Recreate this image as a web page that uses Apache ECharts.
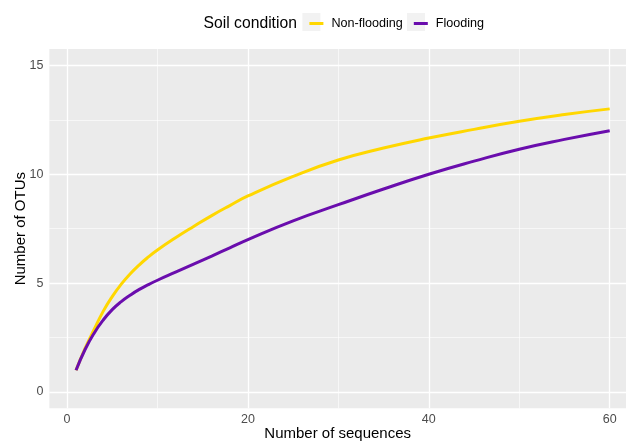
<!DOCTYPE html>
<html>
<head>
<meta charset="utf-8">
<script src="https://cdn.jsdelivr.net/npm/echarts@6/dist/echarts.min.js"></script>
<style>html,body{margin:0;padding:0;background:#fff}#c{width:626px;height:441px}</style>
</head>
<body>
<div id="c"></div>
<script>
const seqCounts = [1, 2, 3, 4, 5, 6, 7, 8, 9, 10, 12, 14, 16, 18, 20, 25, 30, 35, 40, 45, 50, 55, 60];
const nonFlooding = [1.0, 2.0, 2.87, 3.7, 4.38, 4.95, 5.43, 5.84, 6.2, 6.52, 7.08, 7.6, 8.1, 8.56, 9.0, 9.9, 10.65, 11.2, 11.66, 12.06, 12.43, 12.74, 13.0];
const flooding = [1.0, 1.95, 2.7, 3.3, 3.78, 4.15, 4.45, 4.71, 4.93, 5.13, 5.5, 5.87, 6.24, 6.62, 7.0, 7.86, 8.6, 9.32, 10.0, 10.6, 11.15, 11.6, 12.0];
const seriesNames = ['Non-flooding', 'Flooding'];
const xTicks = [0, 20, 40, 60];
const xMinor = [10, 30, 50];
const yTicks = [0, 5, 10, 15];
const yMinor = [2.5, 7.5, 12.5];

const FONT = '"Liberation Sans", Arial, sans-serif';
const chart = echarts.init(document.getElementById('c'));
const pair = (xs, ys) => xs.map((x, i) => [x, ys[i]]);

const gridLines = [];
xTicks.forEach(v => gridLines.push({xAxis: v, lineStyle: {width: 1.3}}));
xMinor.forEach(v => gridLines.push({xAxis: v, lineStyle: {width: 0.6}}));
yTicks.forEach(v => gridLines.push({yAxis: v, lineStyle: {width: 1.3}}));
yMinor.forEach(v => gridLines.push({yAxis: v, lineStyle: {width: 0.6}}));

chart.setOption({
  animation: false,
  textStyle: {fontFamily: FONT},
  grid: {left: 49.35, right: 0, top: 49, bottom: 32.7, show: true, backgroundColor: '#EBEBEB', borderWidth: 0,
    containLabel: false, outerBoundsMode: 'none'},
  graphic: [
    {type: 'text', left: 203.6, top: 15.5, z: 0, style: {text: 'Soil condition', font: '15.7px ' + FONT, fill: '#000'}},
    {type: 'rect', shape: {x: 302.4, y: 13, width: 18, height: 18}, z: 0, style: {fill: '#F2F2F2'}},
    {type: 'rect', shape: {x: 407, y: 13, width: 18, height: 18}, z: 0, style: {fill: '#F2F2F2'}}
  ],
  legend: {
    left: 304.4, top: 12, icon: 'rect', itemWidth: 14, itemHeight: 3, itemGap: 11,
    data: seriesNames,
    textStyle: {fontSize: 12.6, color: '#000', fontFamily: FONT, padding: [0, 0, 0, 3]}
  },
  xAxis: {
    type: 'value', min: -1.95, max: 61.8,
    name: 'Number of sequences', nameLocation: 'middle', nameGap: 18, nameMoveOverlap: false,
    nameTextStyle: {fontSize: 15, color: '#000', fontFamily: FONT},
    axisLine: {show: false},
    axisTick: {show: true, length: 3, customValues: xTicks, lineStyle: {color: '#333', width: 1}},
    axisLabel: {customValues: xTicks, margin: 5, fontSize: 12.5, color: '#4D4D4D', fontFamily: FONT},
    splitLine: {show: false}
  },
  yAxis: {
    type: 'value', min: -0.75, max: 15.75,
    name: 'Number of OTUs', nameLocation: 'middle', nameRotate: 90, nameGap: 21, nameMoveOverlap: false,
    nameTextStyle: {fontSize: 15, color: '#000', fontFamily: FONT},
    axisLine: {show: false},
    axisTick: {show: true, length: 3, customValues: yTicks, lineStyle: {color: '#333', width: 1}},
    axisLabel: {customValues: yTicks, margin: 6, fontSize: 12.5, color: '#4D4D4D', fontFamily: FONT},
    splitLine: {show: false}
  },
  series: [
    {
      type: 'line', name: '_grid', z: 1, data: [], silent: true,
      markLine: {silent: true, z: 1, symbol: 'none', animation: false, label: {show: false},
        lineStyle: {color: '#FFFFFF', type: 'solid'}, data: gridLines}
    },
    {
      type: 'line', name: seriesNames[0], z: 3, data: pair(seqCounts, nonFlooding),
      showSymbol: false, smooth: 0.5, color: '#FFD700',
      lineStyle: {width: 3, color: '#FFD700'}
    },
    {
      type: 'line', name: seriesNames[1], z: 3, data: pair(seqCounts, flooding),
      showSymbol: false, smooth: 0.5, color: '#6A0DAD',
      lineStyle: {width: 3, color: '#6A0DAD'}
    }
  ]
});
</script>
</body>
</html>
